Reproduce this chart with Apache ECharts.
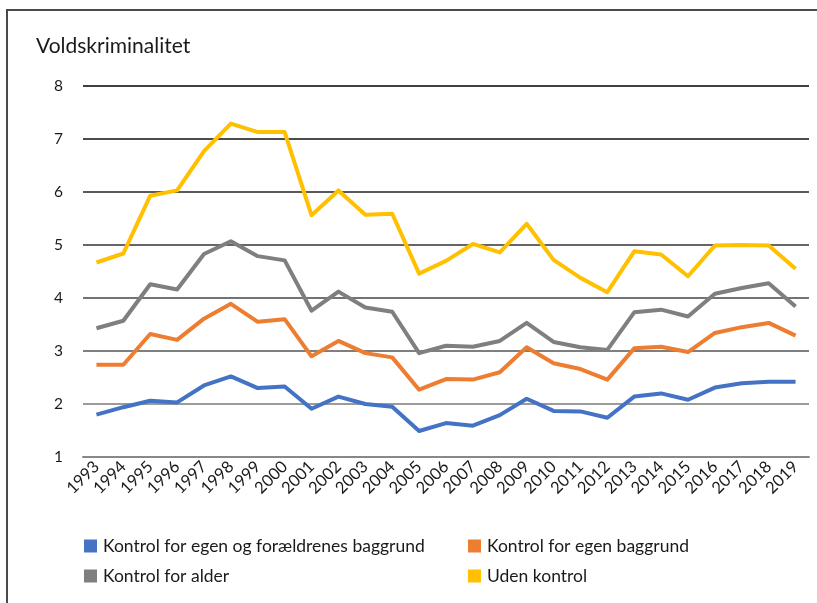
<!DOCTYPE html>
<html>
<head>
<meta charset="utf-8">
<style>
  html, body { margin: 0; padding: 0; background: #fff; }
  #chart { width: 817px; height: 603px; }
</style>
<script src="https://cdn.jsdelivr.net/npm/echarts@6/dist/echarts.min.js"></script>
</head>
<body>
<div id="chart"></div>
<script>
// Årstal langs x-aksen
const years = ['1993','1994','1995','1996','1997','1998','1999','2000','2001','2002','2003','2004','2005','2006','2007','2008','2009','2010','2011','2012','2013','2014','2015','2016','2017','2018','2019'];

// Serienavne
const names = [
  'Kontrol for egen og forældrenes baggrund',
  'Kontrol for egen baggrund',
  'Kontrol for alder',
  'Uden kontrol'
];

// Voldskriminalitet pr. serie
const egenOgForaeldre = [1.80,1.94,2.06,2.03,2.35,2.52,2.30,2.33,1.91,2.14,2.00,1.95,1.49,1.64,1.59,1.79,2.10,1.87,1.86,1.74,2.14,2.20,2.08,2.31,2.39,2.42,2.42];
const egenBaggrund    = [2.74,2.74,3.32,3.21,3.61,3.89,3.55,3.60,2.90,3.19,2.96,2.88,2.27,2.47,2.46,2.60,3.07,2.77,2.66,2.46,3.05,3.08,2.98,3.34,3.45,3.53,3.29];
const alder           = [3.43,3.57,4.26,4.16,4.83,5.07,4.79,4.71,3.76,4.12,3.82,3.74,2.96,3.10,3.08,3.19,3.53,3.17,3.07,3.02,3.73,3.78,3.65,4.08,4.19,4.28,3.84];
const udenKontrol     = [4.67,4.84,5.93,6.03,6.77,7.29,7.13,7.13,5.56,6.03,5.57,5.59,4.46,4.70,5.02,4.86,5.40,4.72,4.38,4.11,4.88,4.82,4.41,4.99,5.00,4.99,4.55];

const colors = ['#4472C4', '#ED7D31', '#7F7F7F', '#FFC000'];
const values = [egenOgForaeldre, egenBaggrund, alder, udenKontrol];

const font = 'Lato, "Open Sans", sans-serif';
const chart = echarts.init(document.getElementById('chart'), null, { renderer: 'canvas' });

const legendText = { fontFamily: font, fontSize: 17.5, lineHeight: 18, color: '#1a1a1a', padding: [0, 0, 0, 1] };

chart.setOption({
  animation: false,
  textStyle: { fontFamily: font },
  title: {
    text: 'Voldskriminalitet',
    left: 31,
    top: 31,
    textStyle: { fontFamily: font, fontSize: 21, fontWeight: 'normal', color: '#1a1a1a' }
  },
  graphic: [
    { type: 'line', shape: { x1: 6, y1: 10, x2: 817, y2: 10 }, style: { stroke: '#4a4a4a', lineWidth: 2 } },
    { type: 'line', shape: { x1: 7, y1: 10, x2: 7, y2: 603 }, style: { stroke: '#4a4a4a', lineWidth: 2 } }
  ],
  legend: [
    {
      data: [names[0], names[2]],
      orient: 'vertical',
      left: 79, top: 532,
      itemWidth: 13, itemHeight: 13, itemGap: 12,
      icon: 'rect',
      textStyle: legendText
    },
    {
      data: [names[1], names[3]],
      orient: 'vertical',
      left: 463, top: 532,
      itemWidth: 13, itemHeight: 13, itemGap: 12,
      icon: 'rect',
      textStyle: legendText
    }
  ],
  grid: { left: 83, right: 8, top: 86, bottom: 146, containLabel: false },
  xAxis: {
    type: 'category',
    data: years,
    boundaryGap: true,
    axisLine: { lineStyle: { color: '#888', width: 2 } },
    axisTick: { show: false },
    axisLabel: { rotate: 45, fontSize: 16.5, color: '#1a1a1a', margin: 7, interval: 0, fontFamily: font }
  },
  yAxis: {
    type: 'value',
    min: 1, max: 8, interval: 1,
    axisLine: { show: false },
    axisTick: { show: false },
    axisLabel: { fontSize: 15.5, color: '#1a1a1a', margin: 20, fontFamily: font },
    splitLine: {
      lineStyle: { color: ['#888', '#7a7a7a', '#555', '#444', '#333', '#222', '#111', '#000'], width: 1.5 }
    }
  },
  series: values.map((v, i) => ({
    name: names[i],
    type: 'line',
    data: v,
    symbol: 'none',
    lineStyle: { width: 4, color: colors[i], cap: 'butt', join: 'round' },
    itemStyle: { color: colors[i] },
    z: 2 + i
  }))
});
</script>
</body>
</html>
